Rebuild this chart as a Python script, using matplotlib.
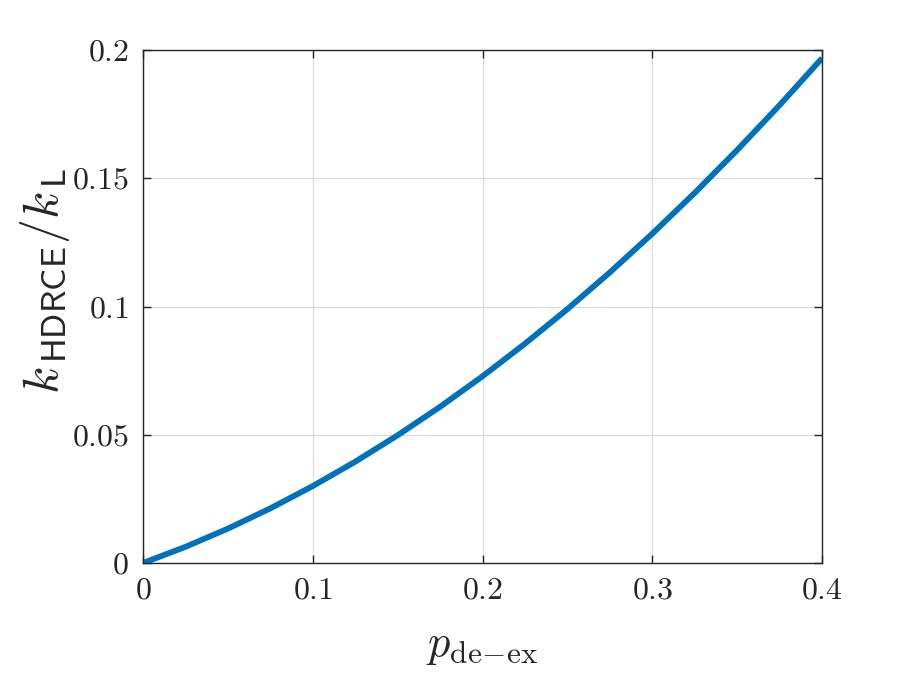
import numpy as np
import matplotlib
matplotlib.use('Agg')
import matplotlib.pyplot as plt

plt.rcParams['mathtext.fontset'] = 'cm'
plt.rcParams['font.family'] = 'serif'
plt.rcParams['font.serif'] = ['cmr10', 'DejaVu Serif']
plt.rcParams['axes.formatter.use_mathtext'] = True

# values
p_deex = [0.0, 0.025, 0.05, 0.075, 0.1, 0.125, 0.15, 0.175, 0.2,
          0.225, 0.25, 0.275, 0.3, 0.325, 0.35, 0.375, 0.4]
k_ratio = [0.0, 0.0063, 0.0134, 0.0213, 0.0300, 0.0395, 0.0498, 0.0609, 0.0728,
           0.0855, 0.0990, 0.1133, 0.1284, 0.1443, 0.1610, 0.1785, 0.1968]
xticks = [0, 0.1, 0.2, 0.3, 0.4]
xtick_labels = ['0', '0.1', '0.2', '0.3', '0.4']
yticks = [0, 0.05, 0.1, 0.15, 0.2]
ytick_labels = ['0', '0.05', '0.1', '0.15', '0.2']

fig = plt.figure(figsize=(9.15, 6.75), dpi=100)
ax = fig.add_axes([0.1563, 0.1659, 0.7421, 0.76])

ax.plot(p_deex, k_ratio, color='#0072BD', lw=4.2, solid_capstyle='butt',
        solid_joinstyle='round')

ax.set_xlim(0, 0.4)
ax.set_ylim(0, 0.2)
ax.set_xticks(xticks)
ax.set_xticklabels(['$' + s + '$' for s in xtick_labels])
ax.set_yticks(yticks)
ax.set_yticklabels(['$' + s + '$' for s in ytick_labels])
ax.tick_params(direction='in', length=6, width=1, colors='#262626',
               labelsize=23, top=True, right=True, pad=10)
ax.grid(True, color='#dcdcdc', lw=0.9)
for s in ax.spines.values():
    s.set_color('#262626')
    s.set_linewidth(1)

ax.set_xlabel(r'$p_{\rm de\!-\!ex}$', fontsize=32, color='#262626', labelpad=16)
ax.set_ylabel(r'$k_{\,\mathsf{HDRCE}}/k_{\,\mathsf{L}}$', fontsize=36,
              color='#262626')
ax.yaxis.set_label_coords(-0.105, 0.55)

fig.savefig('out.png', dpi=100)
